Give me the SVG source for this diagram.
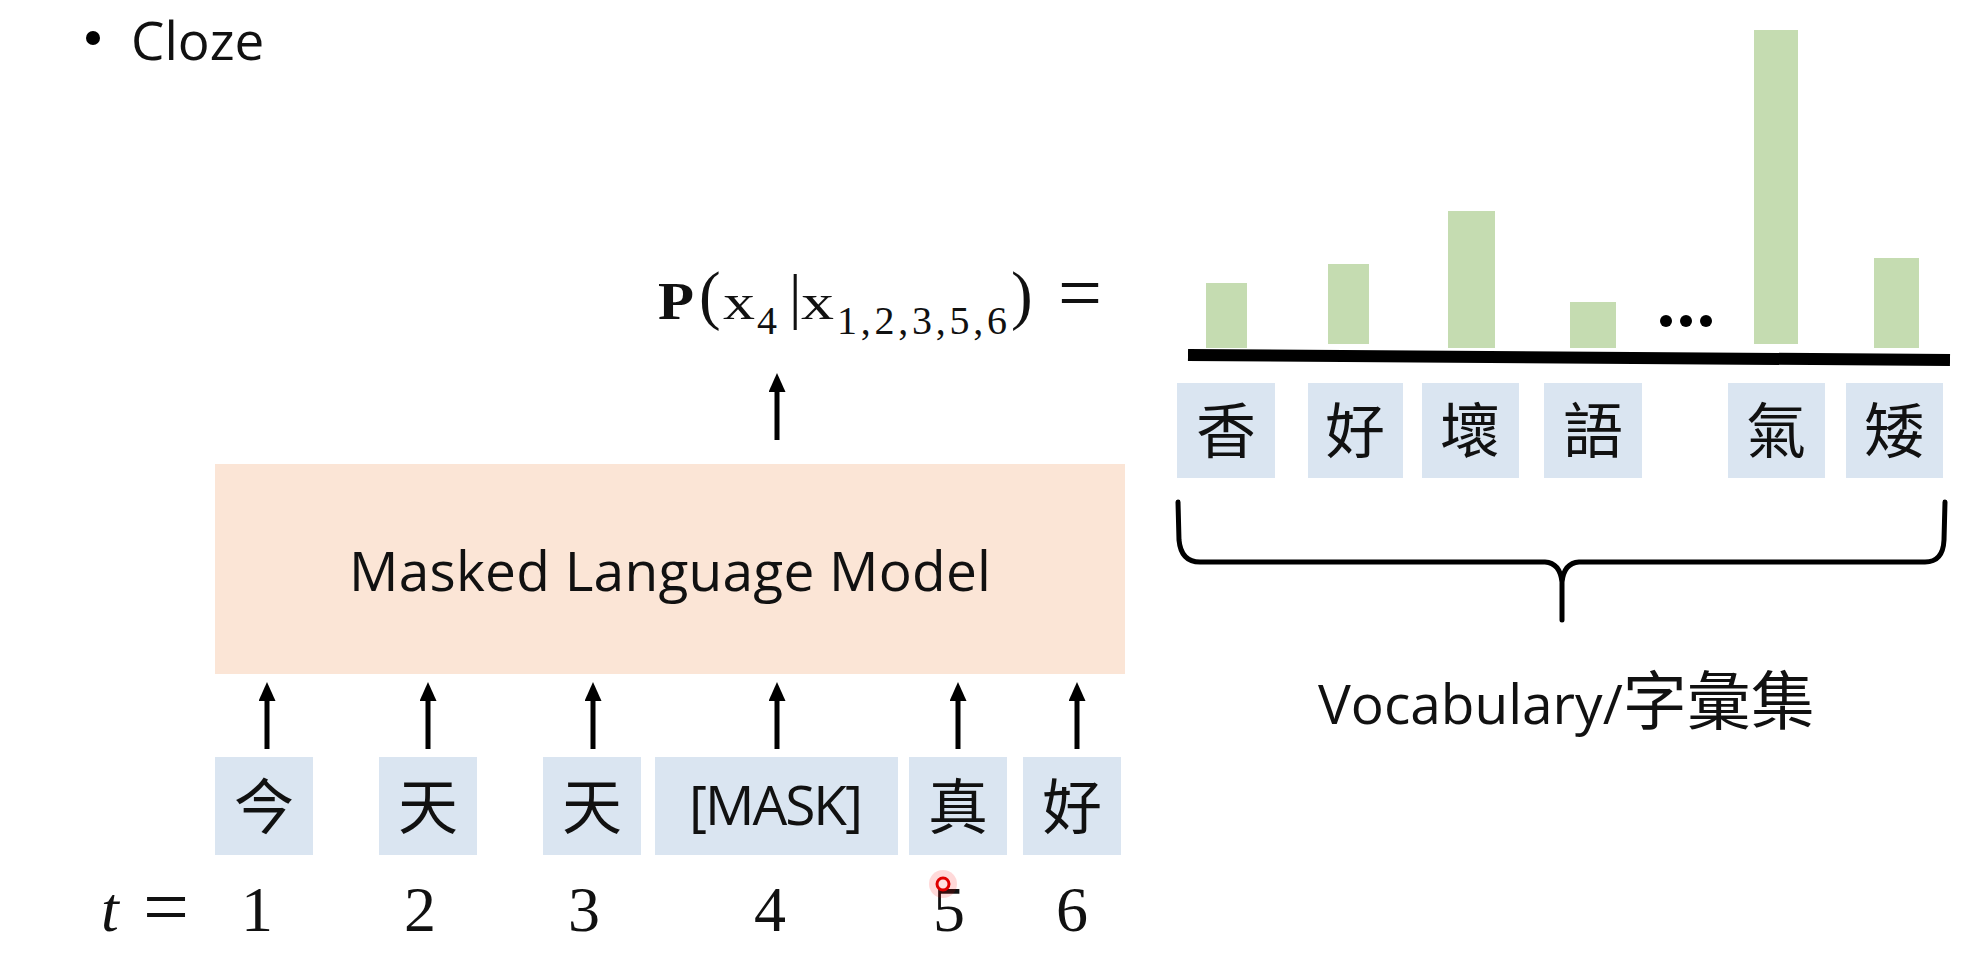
<svg xmlns="http://www.w3.org/2000/svg" width="1974" height="971" viewBox="0 0 1974 971">
<style>
.sans{font-family:"Open Sans","Noto Sans CJK TC",sans-serif;fill:#111;}
.cjk{font-family:"Noto Sans CJK TC","Noto Sans CJK SC",sans-serif;fill:#111;font-size:60px;text-anchor:middle;}
.serif{font-family:"Liberation Serif","DejaVu Serif",serif;fill:#111;}
.tok{fill:#dae5f1;}
.bar{fill:#c5dcb1;}
.arr{stroke:#000;stroke-width:5;fill:none;marker-end:url(#ah);}
.num{font-size:64px;text-anchor:middle;}
</style>
<defs>
<marker id="ah" viewBox="0 0 19 17" refX="7" refY="8.5" markerWidth="19" markerHeight="17" markerUnits="userSpaceOnUse" orient="auto">
<path d="M0,0 L19,8.5 L0,17 Z" fill="#000"/>
</marker>
</defs>
<rect width="1974" height="971" fill="#fff"/>

<g id="title">
<circle cx="93" cy="38" r="7" fill="#000"/>
<text class="sans" x="131" y="60" font-size="53">Cloze</text>
</g>

<g id="formula" class="serif">
<text x="658" y="319" font-size="52" font-weight="bold" textLength="36" lengthAdjust="spacingAndGlyphs">P</text>
<text x="699" y="317" font-size="65">(</text>
<text x="723" y="319" font-size="50" textLength="32" lengthAdjust="spacingAndGlyphs">x</text>
<text x="757" y="334" font-size="40">4</text>
<text x="789" y="317" font-size="62">|</text>
<text x="801" y="319" font-size="50" textLength="33" lengthAdjust="spacingAndGlyphs">x</text>
<text x="837" y="334" font-size="40" textLength="170">1,2,3,5,6</text>
<text x="1011" y="317" font-size="65">)</text>
<text x="1058" y="320" font-size="80" textLength="44" lengthAdjust="spacingAndGlyphs">=</text>
</g>

<g id="mlm">
<rect x="215" y="464" width="910" height="210" fill="#fbe5d6"/>
<text class="sans" x="670" y="591" font-size="55" text-anchor="middle" textLength="642">Masked Language Model</text>
</g>

<g id="inputs">
<g id="in1"><rect class="tok" x="215" y="757" width="98" height="98"/><text class="cjk" x="264" y="829">今</text></g>
<g id="in2"><rect class="tok" x="379" y="757" width="98" height="98"/><text class="cjk" x="428" y="829">天</text></g>
<g id="in3"><rect class="tok" x="543" y="757" width="98" height="98"/><text class="cjk" x="592" y="829">天</text></g>
<g id="in4"><rect class="tok" x="655" y="757" width="243" height="98"/><text class="sans" x="776" y="825" font-size="55" text-anchor="middle" textLength="174">[MASK]</text></g>
<g id="in5"><rect class="tok" x="909" y="757" width="98" height="98"/><text class="cjk" x="958" y="829">真</text></g>
<g id="in6"><rect class="tok" x="1023" y="757" width="98" height="98"/><text class="cjk" x="1072" y="829">好</text></g>
</g>

<g id="timesteps" class="serif">
<text x="101" y="931" font-size="64" font-style="italic">t</text>
<text x="143" y="934" font-size="80" textLength="46" lengthAdjust="spacingAndGlyphs">=</text>
<text class="num" x="257" y="931">1</text>
<text class="num" x="420" y="931">2</text>
<text class="num" x="584" y="931">3</text>
<text class="num" x="770" y="931">4</text>
<text class="num" x="949" y="931">5</text>
<text class="num" x="1072" y="931">6</text>
</g>

<g id="connectors">
<line class="arr" x1="777" y1="440" x2="777" y2="385"/>
<line class="arr" x1="267" y1="749" x2="267" y2="694"/>
<line class="arr" x1="428" y1="749" x2="428" y2="694"/>
<line class="arr" x1="593" y1="749" x2="593" y2="694"/>
<line class="arr" x1="777" y1="749" x2="777" y2="694"/>
<line class="arr" x1="958" y1="749" x2="958" y2="694"/>
<line class="arr" x1="1077" y1="749" x2="1077" y2="694"/>
</g>

<g id="chart">
<rect class="bar" x="1206" y="283" width="41" height="65"/>
<rect class="bar" x="1328" y="264" width="41" height="80"/>
<rect class="bar" x="1448" y="211" width="47" height="137"/>
<rect class="bar" x="1570" y="302" width="46" height="46"/>
<rect class="bar" x="1754" y="30" width="44" height="314"/>
<rect class="bar" x="1874" y="258" width="45" height="90"/>
<circle cx="1666" cy="321" r="6" fill="#000"/>
<circle cx="1686" cy="321" r="6" fill="#000"/>
<circle cx="1706" cy="321" r="6" fill="#000"/>
<line x1="1188" y1="355" x2="1950" y2="360" stroke="#000" stroke-width="12"/>
</g>

<g id="vocab">
<g id="v1"><rect class="tok" x="1177" y="383" width="98" height="95"/><text class="cjk" x="1226" y="453">香</text></g>
<g id="v2"><rect class="tok" x="1308" y="383" width="95" height="95"/><text class="cjk" x="1355" y="453">好</text></g>
<g id="v3"><rect class="tok" x="1422" y="383" width="97" height="95"/><text class="cjk" x="1470" y="453">壞</text></g>
<g id="v4"><rect class="tok" x="1544" y="383" width="98" height="95"/><text class="cjk" x="1593" y="453">語</text></g>
<g id="v5"><rect class="tok" x="1728" y="383" width="97" height="95"/><text class="cjk" x="1776" y="453">氣</text></g>
<g id="v6"><rect class="tok" x="1846" y="383" width="97" height="95"/><text class="cjk" x="1894" y="453">矮</text></g>
</g>

<g id="brace">
<path d="M1178,502 L1179,540 Q1181,562 1200,562 L1545,562 Q1560,563 1562,582 L1562,620 M1562,582 Q1564,563 1579,562 L1925,562 Q1943,562 1944,540 L1945,502" fill="none" stroke="#000" stroke-width="5" stroke-linecap="round" stroke-linejoin="round"/>
<text class="sans" x="1318" y="724" font-size="55">Vocabulary/<tspan font-family="Noto Sans CJK TC, sans-serif" font-size="64">字彙集</tspan></text>
</g>

<g id="pointer">
<circle cx="943" cy="884" r="14" fill="#ff0000" opacity="0.15"/>
<circle cx="943" cy="884" r="6" fill="#ffe0e0" stroke="#e00000" stroke-width="3"/>
</g>
</svg>
